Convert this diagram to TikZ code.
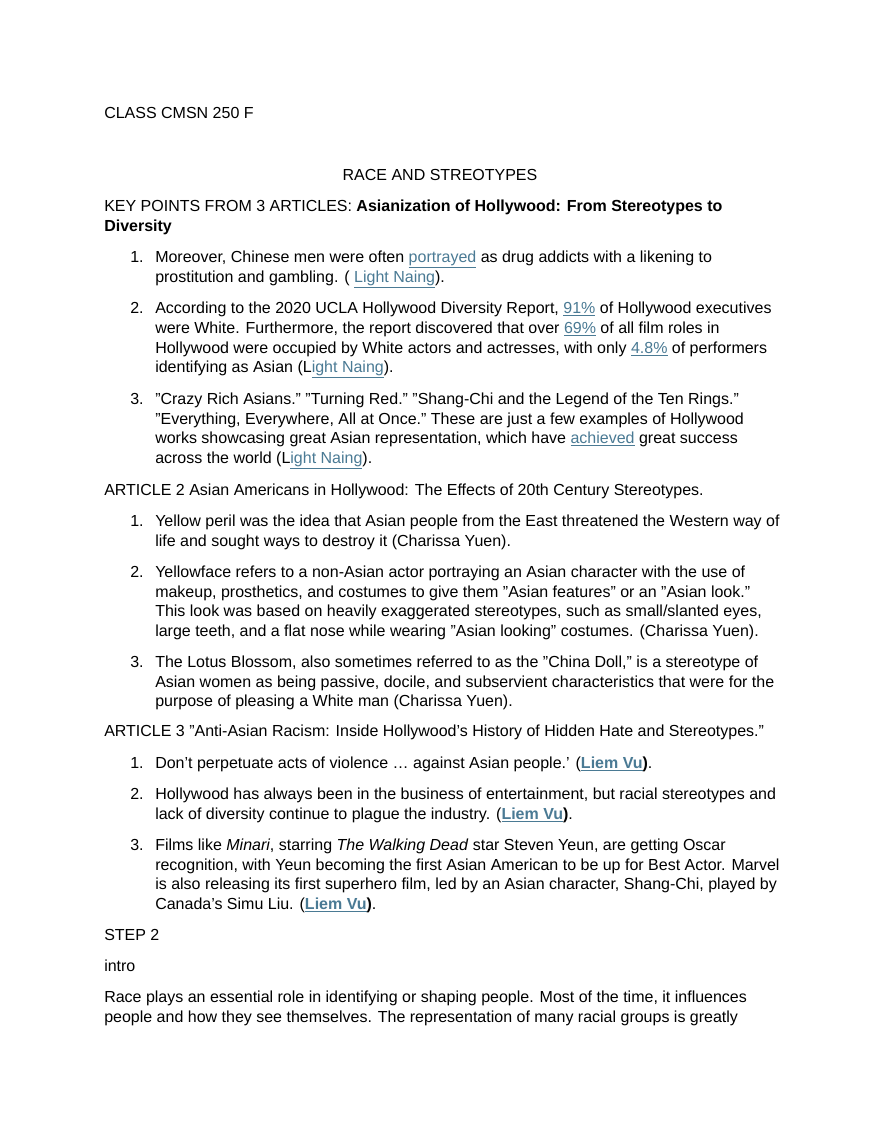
\documentclass[tikz,border=0pt]{standalone}
\usepackage{fontspec}
\setmainfont{Liberation Sans}
\definecolor{lnk}{HTML}{4A7A94}
\newcommand{\lk}[1]{\textcolor{lnk}{\underline{#1}}}
\begin{document}
\begin{tikzpicture}[x=0.75pt,y=-0.75pt,every node/.style={anchor=base west,inner sep=0pt,font=\fontsize{12}{14}\selectfont}]
\useasboundingbox[fill=white] (0,0) rectangle (880,1139);
\node (a1) at (104,118) {CLASS CMSN 250 F};
\node[anchor=base] (a2) at (440,180) {RACE AND STREOTYPES};
\node (a3) at (104,211) {KEY POINTS FROM 3 ARTICLES: \textbf{Asianization of Hollywood: From Stereotypes to}};
\node (a4) at (104,231) {\textbf{Diversity}};
\node (n11) at (130,262) {1.};
\node (l11) at (155,262) {Moreover, Chinese men were often \lk{portrayed} as drug addicts with a likening to};
\node (l12) at (155,282) {prostitution and gambling. ( \lk{Light Naing}).};
\node (n12) at (130,313) {2.};
\node at (155,313) {According to the 2020 UCLA Hollywood Diversity Report, \lk{91\%} of Hollywood executives};
\node at (155,333) {were White. Furthermore, the report discovered that over \lk{69\%} of all film roles in};
\node at (155,353) {Hollywood were occupied by White actors and actresses, with only \lk{4.8\%} of performers};
\node at (155,372) {identifying as Asian (L\lk{ight Naing}).};
\node (n13) at (130,404) {3.};
\node at (155,404) {"Crazy Rich Asians." "Turning Red." "Shang-Chi and the Legend of the Ten Rings."};
\node at (155,424) {"Everything, Everywhere, All at Once." These are just a few examples of Hollywood};
\node at (155,443) {works showcasing great Asian representation, which have \lk{achieved} great success};
\node at (155,463) {across the world (L\lk{ight Naing}).};
\node (b0) at (104,495) {ARTICLE 2 Asian Americans in Hollywood: The Effects of 20th Century Stereotypes.};
\node at (130,526) {1.};
\node at (155,526) {Yellow peril was the idea that Asian people from the East threatened the Western way of};
\node at (155,546) {life and sought ways to destroy it (Charissa Yuen).};
\node at (130,577) {2.};
\node at (155,577) {Yellowface refers to a non-Asian actor portraying an Asian character with the use of};
\node at (155,597) {makeup, prosthetics, and costumes to give them "Asian features" or an "Asian look."};
\node at (155,616) {This look was based on heavily exaggerated stereotypes, such as small/slanted eyes,};
\node at (155,636) {large teeth, and a flat nose while wearing "Asian looking" costumes. (Charissa Yuen).};
\node at (130,667) {3.};
\node at (155,667) {The Lotus Blossom, also sometimes referred to as the "China Doll," is a stereotype of};
\node at (155,687) {Asian women as being passive, docile, and subservient characteristics that were for the};
\node at (155,706) {purpose of pleasing a White man (Charissa Yuen).};
\node (c0) at (104,736) {ARTICLE 3 "Anti-Asian Racism: Inside Hollywood's History of Hidden Hate and Stereotypes."};
\node at (130,768) {1.};
\node at (155,768) {Don't perpetuate acts of violence … against Asian people.' (\textbf{\lk{Liem Vu})}.};
\node at (130,799) {2.};
\node at (155,799) {Hollywood has always been in the business of entertainment, but racial stereotypes and};
\node at (155,819) {lack of diversity continue to plague the industry. (\textbf{\lk{Liem Vu})}.};
\node at (130,850) {3.};
\node at (155,850) {Films like \textit{Minari}, starring \textit{The Walking Dead} star Steven Yeun, are getting Oscar};
\node at (155,870) {recognition, with Yeun becoming the first Asian American to be up for Best Actor. Marvel};
\node at (155,889) {is also releasing its first superhero film, led by an Asian character, Shang-Chi, played by};
\node at (155,909) {Canada's Simu Liu. (\textbf{\lk{Liem Vu})}.};
\node (d0) at (104,940) {STEP 2};
\node (d1) at (104,971) {intro};
\node at (104,1002) {Race plays an essential role in identifying or shaping people. Most of the time, it influences};
\node at (104,1022) {people and how they see themselves. The representation of many racial groups is greatly};
\end{tikzpicture}
\end{document}
